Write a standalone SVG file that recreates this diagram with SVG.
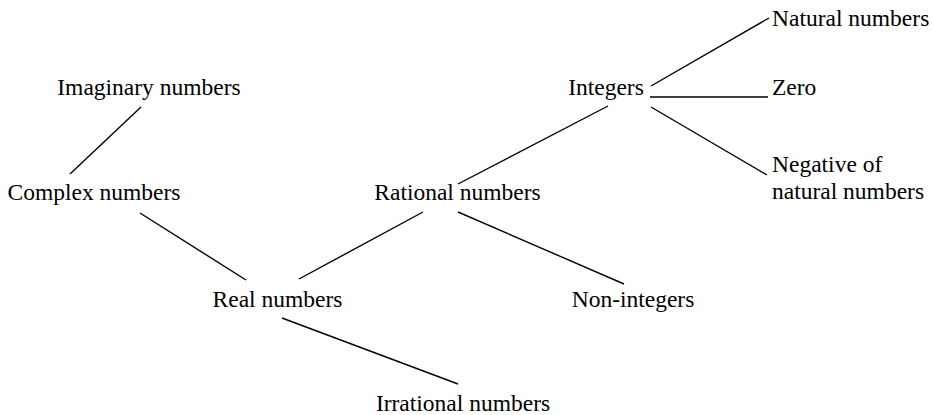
<svg xmlns="http://www.w3.org/2000/svg" width="934" height="415" viewBox="0 0 934 415">
<style>
text{font-family:"Liberation Serif","Times New Roman",serif;font-size:23.5px;fill:#000}
.c{text-anchor:middle}
line{stroke:#000;stroke-width:1.4;fill:none}
</style>
<rect width="934" height="415" fill="#fff"/>
<g id="connectors">
<line x1="141" y1="107" x2="70" y2="174"/>
<line x1="140" y1="213" x2="246" y2="280"/>
<line x1="299" y1="279" x2="423" y2="212"/>
<line x1="458" y1="212" x2="624" y2="284"/>
<line x1="458" y1="184" x2="608" y2="106"/>
<line x1="282" y1="318" x2="458" y2="384"/>
<line x1="651" y1="86" x2="769" y2="18"/>
<line x1="650" y1="97" x2="768" y2="97"/>
<line x1="651" y1="107" x2="767" y2="175"/>
</g>
<g id="imaginary"><text class="c" x="149" y="95">Imaginary numbers</text></g>
<g id="complex"><text class="c" x="94" y="200">Complex numbers</text></g>
<g id="real"><text class="c" x="277.5" y="307">Real numbers</text></g>
<g id="irrational"><text class="c" x="463" y="411">Irrational numbers</text></g>
<g id="rational"><text class="c" x="457.5" y="200">Rational numbers</text></g>
<g id="noninteger"><text class="c" x="633" y="307">Non-integers</text></g>
<g id="integers"><text class="c" x="606" y="95">Integers</text></g>
<g id="natural"><text x="772" y="26">Natural numbers</text></g>
<g id="zero"><text x="772" y="95">Zero</text></g>
<g id="negative"><text x="772" y="172">Negative of</text><text x="772" y="199">natural numbers</text></g>
</svg>
